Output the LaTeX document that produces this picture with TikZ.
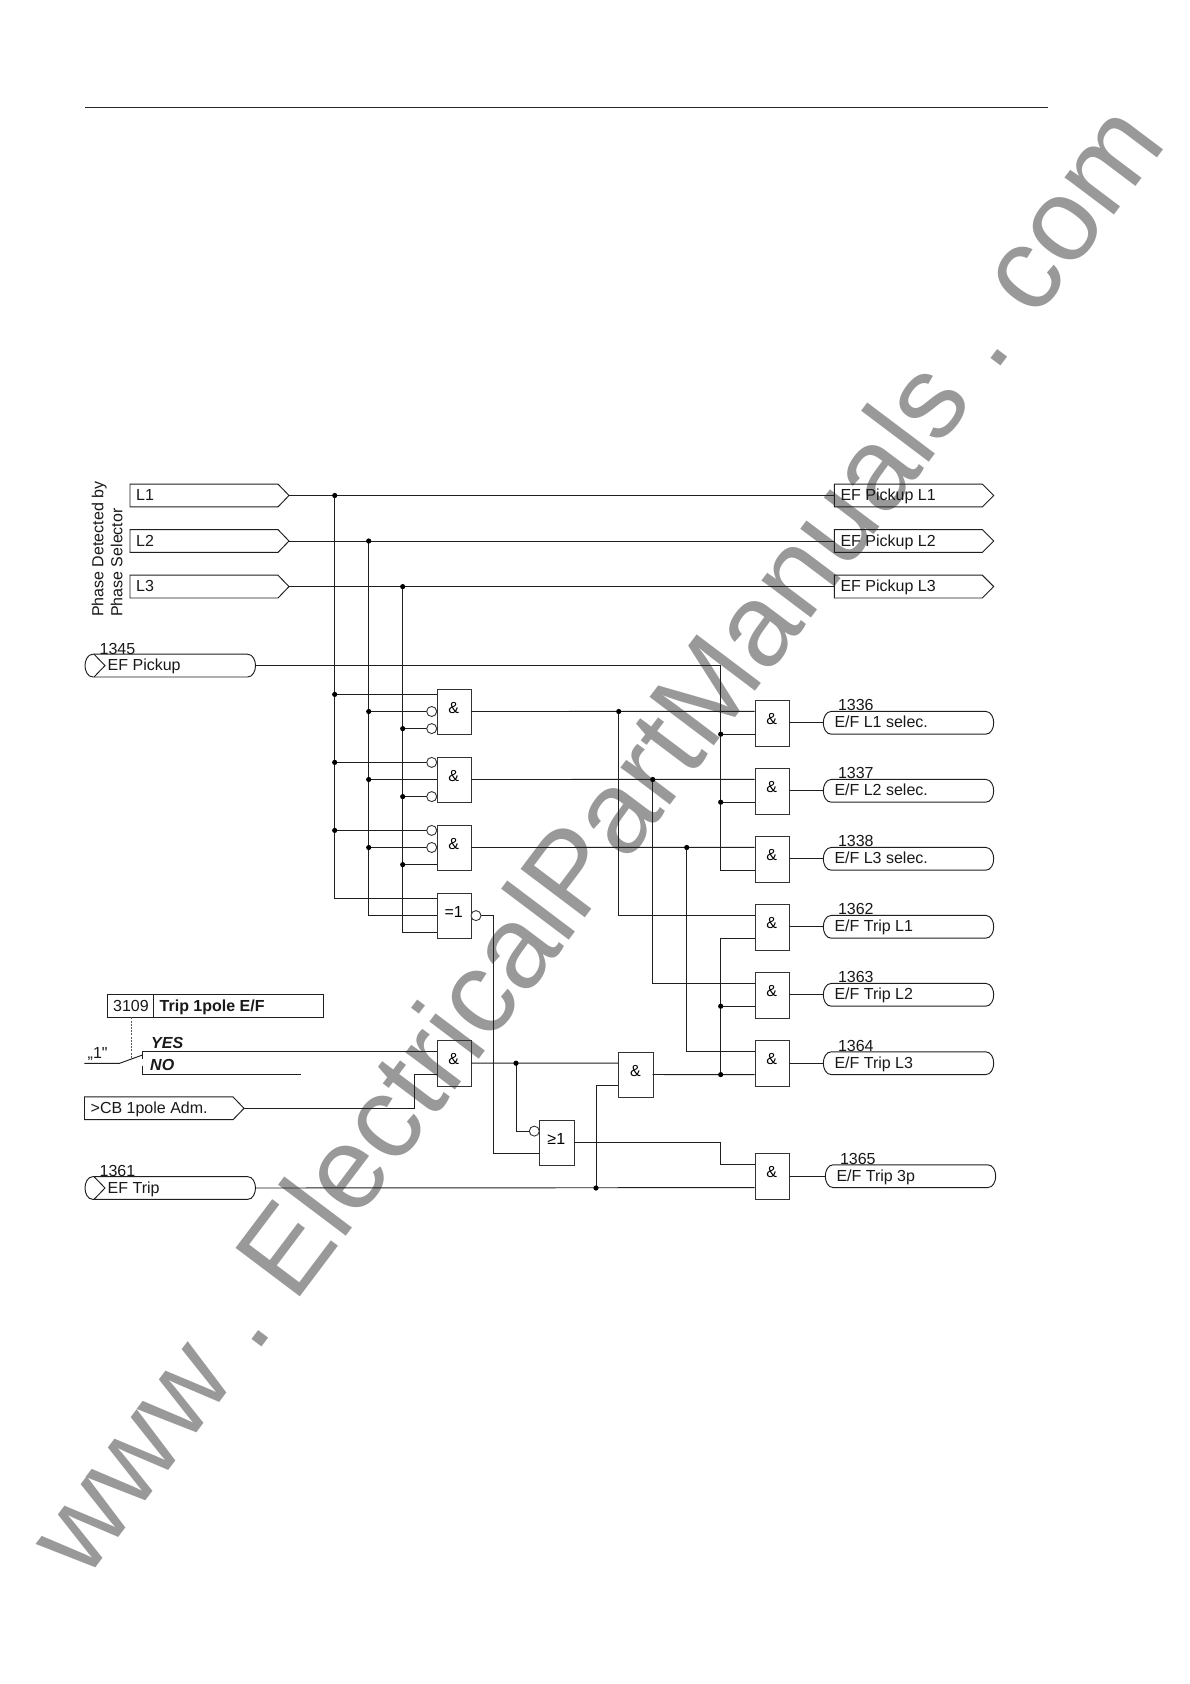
\documentclass[tikz,border=0pt]{standalone}
\usepackage{fontspec}
\setmainfont{Liberation Sans}
\tikzset{
  x=1pt,y=-1pt,
  wire/.style={draw=black!88,line width=0.95pt,line join=miter},
  gatebox/.style={draw=black!80,line width=1.05pt,rectangle,minimum width=34.3pt,minimum height=45.6pt,inner sep=0pt,anchor=north west},
  jdot/.style={circle,fill=black,inner sep=0pt,minimum size=5.2pt},
  bub/.style={circle,draw=black!80,line width=0.9pt,fill=white,inner sep=0pt,minimum size=10pt},
  txt/.style={inner sep=0pt,anchor=base west,font=\fontsize{16}{18}\selectfont,text=black!90},
  gtxt/.style={inner sep=0pt,anchor=base,font=\fontsize{16}{18}\selectfont,text=black},
  wmark/.style={inner sep=0pt,anchor=base west,rotate=53,text=black!40,font=\fontsize{117}{130}\selectfont}
}
% logic gate with pins a..e on the left and o on the right
\newcommand\lgate[4]{%
  \node[gatebox] (#1) at (#2,#3) {};
  \node[gtxt] (#1-t) at (#2+17,#3+24.4) {#4};
  \coordinate (#1-a) at (#2,#3+5.7);
  \coordinate (#1-b) at (#2,#3+11.4);
  \coordinate (#1-c) at (#2,#3+22.8);
  \coordinate (#1-d) at (#2,#3+34.2);
  \coordinate (#1-e) at (#2,#3+39.9);
  \coordinate (#1-o) at (#2+34.3,#3+22.8);
}
% signal tag pointing right: name, x left, x body end, x tip, y centre, text
\newcommand\sigtag[6]{%
  \draw[wire] (#2,#5-11.4) -- (#3,#5-11.4) -- (#4,#5) -- (#3,#5+11.4) -- (#2,#5+11.4) -- cycle;
  \node[txt] (#1) at (#2+6,#5+5) {#6};
  \coordinate (#1-in) at (#2,#5);
  \coordinate (#1-out) at (#4,#5);
}
% pill outline
\newcommand\pill[3]{%
  \draw[wire] (#1+8,#3-11.4) -- (#2-8,#3-11.4) .. controls (#2-2.5,#3-11.4) and (#2,#3-5) .. (#2,#3)
     .. controls (#2,#3+5) and (#2-2.5,#3+11.4) .. (#2-8,#3+11.4) -- (#1+8,#3+11.4)
     .. controls (#1+2.5,#3+11.4) and (#1,#3+5) .. (#1,#3)
     .. controls (#1,#3-5) and (#1+2.5,#3-11.4) .. (#1+8,#3-11.4) -- cycle;
}
% output pill: name, x left, x right, y centre, number, text
\newcommand\outpill[6]{%
  \pill{#2}{#3}{#4}
  \node[txt] (#1-n) at (#2+14.5,#4-12.2) {#5};
  \node[txt] (#1) at (#2+11,#4+4.8) {#6};
  \coordinate (#1-in) at (#2,#4);
}
% input pill with chevron: name, x left, x right, y centre, number, text
\newcommand\inpill[6]{%
  \pill{#2}{#3}{#4}
  \draw[wire] (#2+9,#4-11.4) -- (#2+20,#4) -- (#2+9,#4+11.4);
  \node[txt] (#1-n) at (#2+14.5,#4-11.6) {#5};
  \node[txt] (#1) at (#2+22.5,#4+5) {#6};
  \coordinate (#1-out) at (#3,#4);
}
\begin{document}
\begin{tikzpicture}
\useasboundingbox (0,0) rectangle (1190,1684);
\fill[white] (0,0) rectangle (1190,1684);

% watermark
\node[wmark] (mark) at (85,1582) {www\hspace{-2.5pt} .\hspace{-11.7pt} ElectricalPartManuals .\hspace{-8pt} com};

% top rule
\coordinate (ruleL) at (85,107.5);
\coordinate (ruleR) at (1048,107.5);
\draw[line width=1pt,black!85] (ruleL) -- (ruleR);

% gates
\lgate{g1}{436.7}{688.7}{\&}
\lgate{g2}{436.7}{756.7}{\&}
\lgate{g3}{436.7}{824.7}{\&}
\lgate{x1}{436.7}{892.8}{=1}
\lgate{g4}{436.7}{1040.4}{\&}
\lgate{g5}{618.4}{1051.7}{\&}
\lgate{g6}{539.3}{1119.7}{≥1}
\lgate{o1}{754.7}{700}{\&}
\lgate{o2}{754.7}{768}{\&}
\lgate{o3}{754.7}{836}{\&}
\lgate{o4}{754.7}{904}{\&}
\lgate{o5}{754.7}{972}{\&}
\lgate{o6}{754.7}{1040.4}{\&}
\lgate{o7}{754.7}{1153.4}{\&}

% tags
\sigtag{L1}{130}{278}{289}{495.5}{L1}
\sigtag{L2}{130}{278}{289}{541}{L2}
\sigtag{L3}{130}{278}{289}{586.6}{L3}
\sigtag{P1}{834.3}{982.3}{993.7}{495.5}{EF Pickup L1}
\sigtag{P2}{834.3}{982.3}{993.7}{541}{EF Pickup L2}
\sigtag{P3}{834.3}{982.3}{993.7}{586.6}{EF Pickup L3}
\sigtag{CB}{84.5}{233}{244}{1108.3}{>CB 1pole Adm.}

\inpill{EP}{85}{255.5}{665.6}{1345}{EF Pickup}
\inpill{ET}{85}{255.5}{1188}{1361}{EF Trip}
\outpill{R1}{823.3}{993.7}{722.8}{1336}{E/F L1 selec.}
\outpill{R2}{823.3}{993.7}{790.8}{1337}{E/F L2 selec.}
\outpill{R3}{823.3}{993.7}{858.8}{1338}{E/F L3 selec.}
\outpill{R4}{823.3}{993.7}{926.8}{1362}{E/F Trip L1}
\outpill{R5}{823.3}{993.7}{994.8}{1363}{E/F Trip L2}
\outpill{R6}{823.3}{993.7}{1063.2}{1364}{E/F Trip L3}
\outpill{R7}{825.3}{995.7}{1176.2}{1365}{E/F Trip 3p}

% rotated caption
\node[txt,rotate=90] (cap1) at (103.3,617) {Phase Detected by};
\node[txt,rotate=90] (cap2) at (122.3,617) {Phase Selector};

% bus verticals
\coordinate (v1) at (334.7,495.5);
\coordinate (v2) at (368.7,541);
\coordinate (v3) at (402.7,586.6);
\draw[wire] (L1-out) -- (P1-in);
\draw[wire] (L2-out) -- (P2-in);
\draw[wire] (L3-out) -- (P3-in);
\draw[wire] (v1) |- (x1-a);
\draw[wire] (v2) |- (x1-c);
\draw[wire] (v3) |- (x1-e);
\foreach \g in {g1,g2,g3}{
  \draw[wire] (v1 |- \g-a) -- (\g-a);
  \draw[wire] (v2 |- \g-c) -- (\g-c);
  \draw[wire] (v3 |- \g-e) -- (\g-e);
}
\node[jdot] (j1) at (v1) {};
\node[jdot] (j2) at (v2) {};
\node[jdot] (j3) at (v3) {};
\foreach \g in {g1,g2,g3}{
  \node[jdot] (\g-j1) at (v1 |- \g-a) {};
  \node[jdot] (\g-j2) at (v2 |- \g-c) {};
  \node[jdot] (\g-j3) at (v3 |- \g-e) {};
}
% inverted inputs
\node[bub] (b1) at ([xshift=-5pt]g1-c) {};
\node[bub] (b2) at ([xshift=-5pt]g1-e) {};
\node[bub] (b3) at ([xshift=-5pt]g2-a) {};
\node[bub] (b4) at ([xshift=-5pt]g2-e) {};
\node[bub] (b5) at ([xshift=-5pt]g3-a) {};
\node[bub] (b6) at ([xshift=-5pt]g3-c) {};

% EF pickup feeds the enable bus
\coordinate (en) at (720.7,665.6);
\draw[wire] (EP-out) -- (en) |- (o3-d);
\draw[wire] (en |- o1-d) -- (o1-d);
\draw[wire] (en |- o2-d) -- (o2-d);
\node[jdot] (en1) at (en |- o1-d) {};
\node[jdot] (en2) at (en |- o2-d) {};

% phase selected lines
\coordinate (t1) at (618.7,722.8);
\coordinate (t2) at (652.7,790.8);
\coordinate (t3) at (686.7,858.8);
\draw[wire] (g1-o) -- (o1-b);
\draw[wire] (g2-o) -- (o2-b);
\draw[wire] (g3-o) -- (o3-b);
\draw[wire] (t1 |- g1-o) |- (o4-b);
\draw[wire] (t2 |- g2-o) |- (o5-b);
\draw[wire] (t3 |- g3-o) |- (o6-b);
\node[jdot] (t1j) at (t1 |- g1-o) {};
\node[jdot] (t2j) at (t2 |- g2-o) {};
\node[jdot] (t3j) at (t3 |- g3-o) {};

% gate outputs to output pills
\foreach \n in {1,...,7}{ \draw[wire] (o\n-o) -- (o\n-o -| R\n-in); }

% setting box and switch
\draw[wire] (107.5,994.8) rectangle (323.6,1017.4);
\draw[wire] (153.6,994.8) -- (153.6,1017.4);
\node[txt] (sA) at (113,1011.4) {3109};
\node[txt,font=\fontsize{16}{18}\selectfont\bfseries] (sB) at (159.5,1011.4) {Trip 1pole E/F};
\coordinate (d1) at (131,1017.4);
\coordinate (d2) at (131,1059);
\draw[black!65,line width=0.9pt,dash pattern=on 2pt off 1.2pt] (d1) -- (d2);
\node[txt,font=\fontsize{16}{18}\selectfont\bfseries\itshape] (yes) at (151,1048) {YES};
\node[txt,font=\fontsize{16}{18}\selectfont\bfseries\itshape] (no) at (150,1070) {NO};
\node[txt] (one) at (87.5,1058) {„1\textquotedbl};
\coordinate (sw0) at (84.3,1063.4);
\coordinate (sw1) at (119.3,1063.4);
\coordinate (sw2) at (142.5,1055);
\coordinate (yS) at (142.5,1059);
\coordinate (nS) at (142.5,1065.5);
\coordinate (nE) at (301,1074.6);
\draw[wire] (sw0) -- (sw1) -- (sw2);
\draw[wire] (yS) |- (g4-b);
\draw[wire] (nS) |- (nE);

% CB line
\coordinate (cbk) at (414.3,1108.3);
\draw[wire] (CB-out) -- (cbk) |- (g4-d);

% lower logic
\coordinate (t4) at (516,1063.2);
\coordinate (m1) at (493.7,915.6);
\draw[wire] (x1-o) -- (m1) |- (g6-d);
\node[bub] (xb) at ([xshift=5pt]x1-o) {};
\draw[wire] (g4-o) -- (g5-b);
\draw[wire] (t4) |- (g6-b);
\node[jdot] (t4j) at (t4) {};
\node[bub] (g6b) at ([xshift=-5pt]g6-b) {};
\coordinate (k6) at (720.7,1142.5);
\draw[wire] (g6-o) -- (k6) |- (o7-b);
\coordinate (k5) at (596,1188);
\draw[wire] (k5) |- (g5-d);
\draw[wire] (ET-out) -- (o7-d);
\node[jdot] (k5j) at (k5) {};

% release bus for the trip gates
\coordinate (rb) at (720.7,938.2);
\draw[wire] (g5-o) -- (o6-d);
\draw[wire] (o4-d) -- (rb) -- (rb |- o6-d);
\draw[wire] (rb |- o5-d) -- (o5-d);
\node[jdot] (rb1) at (rb |- o5-d) {};
\node[jdot] (rb2) at (rb |- o6-d) {};
\end{tikzpicture}
\end{document}
